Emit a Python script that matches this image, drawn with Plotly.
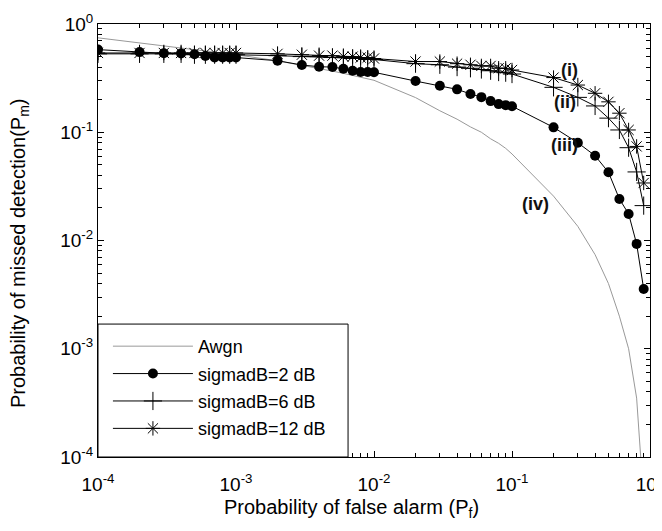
import plotly.graph_objects as go

pf = [0.0001, 0.0002, 0.0003, 0.0004, 0.0005, 0.0006, 0.0007, 0.0008, 0.0009,
      0.001, 0.002, 0.003, 0.004, 0.005, 0.006, 0.007, 0.008, 0.009,
      0.01, 0.02, 0.03, 0.04, 0.05, 0.06, 0.07, 0.08, 0.09,
      0.1, 0.2, 0.3, 0.4, 0.5, 0.6, 0.7, 0.8, 0.9]

pm_awgn = [0.745, 0.67, 0.63, 0.60, 0.58, 0.565, 0.55, 0.54, 0.53,
           0.52, 0.457, 0.417, 0.39, 0.367, 0.35, 0.335, 0.324, 0.313,
           0.302, 0.209, 0.158, 0.132, 0.112, 0.10, 0.087, 0.079, 0.071,
           0.063, 0.0257, 0.0135, 0.0074, 0.004, 0.002, 0.001, 0.00035, 0.00004]

pm_2db = [0.58, 0.55, 0.536, 0.535, 0.525, 0.506, 0.49, 0.49, 0.49,
          0.49, 0.458, 0.418, 0.403, 0.40, 0.386, 0.37, 0.36, 0.36,
          0.358, 0.297, 0.269, 0.249, 0.226, 0.211, 0.194, 0.182, 0.178,
          0.174, 0.111, 0.080, 0.0607, 0.0427, 0.0242, 0.0176, 0.0093, 0.00356]

pm_6db = [0.53, 0.53, 0.53, 0.53, 0.52, 0.52, 0.52, 0.52, 0.52,
          0.52, 0.51, 0.50, 0.50, 0.49, 0.49, 0.48, 0.48, 0.47,
          0.47, 0.43, 0.42, 0.40, 0.39, 0.38, 0.37, 0.36, 0.355,
          0.345, 0.26, 0.21, 0.175, 0.135, 0.105, 0.072, 0.043, 0.021]

pm_12db = [0.54, 0.54, 0.54, 0.54, 0.54, 0.54, 0.54, 0.54, 0.54,
           0.54, 0.53, 0.52, 0.51, 0.51, 0.50, 0.50, 0.49, 0.49,
           0.48, 0.45, 0.45, 0.43, 0.42, 0.41, 0.41, 0.39, 0.39,
           0.376, 0.32, 0.273, 0.229, 0.191, 0.15, 0.105, 0.074, 0.034]

tick_vals = [0.0001, 0.001, 0.01, 0.1, 1]
tick_text = ["10<sup>-4</sup>", "10<sup>-3</sup>", "10<sup>-2</sup>", "10<sup>-1</sup>", "10<sup>0</sup>"]

curve_labels = ["(i)", "(ii)", "(iii)", "(iv)"]
x_title = "Probability of false alarm (P<sub>f</sub>)"
y_title = "Probability of missed detection(P<sub>m</sub>)"

FONT = "Arial, Liberation Sans, sans-serif"

fig = go.Figure()
fig.add_trace(go.Scatter(x=pf, y=pm_awgn, mode="lines", name="Awgn", legendgroup="a",
                         line=dict(color="#999999", width=1)))
fig.add_trace(go.Scatter(x=pf, y=pm_2db, mode="lines+markers", name="sigmadB=2 dB",
                         legendgroup="b",
                         line=dict(color="black", width=1),
                         marker=dict(symbol="circle", size=10, color="black")))
fig.add_trace(go.Scatter(x=pf, y=pm_6db, mode="lines+markers", name="sigmadB=6 dB",
                         legendgroup="c",
                         line=dict(color="black", width=1),
                         marker=dict(symbol="cross-thin-open", size=13,
                                     line=dict(color="black", width=1))))
fig.add_trace(go.Scatter(x=pf, y=pm_12db, mode="lines+markers", name="sigmadB=12 dB",
                         legendgroup="d",
                         line=dict(color="black", width=1),
                         marker=dict(symbol="asterisk-open", size=12,
                                     line=dict(color="black", width=1))))

ann_pos = [(0.855, 0.894), (0.846, 0.82), (0.846, 0.72), (0.792, 0.584)]
for lab, (ax_, ay_) in zip(curve_labels, ann_pos):
    fig.add_annotation(x=ax_, y=ay_, xref="paper", yref="paper", text="<b>%s</b>" % lab,
                       xanchor="center", yanchor="middle",
                       showarrow=False, font=dict(family=FONT, size=18, color="#111"))

# axis titles (placed like the original, slightly off-centre)
fig.add_annotation(x=0.46, y=-0.118, xref="paper", yref="paper", text=x_title,
                   xanchor="center", yanchor="middle", showarrow=False,
                   font=dict(family=FONT, size=20, color="black"))
fig.add_annotation(x=-0.142, y=0.47, xref="paper", yref="paper", text=y_title,
                   textangle=-90, xanchor="center", yanchor="middle", showarrow=False,
                   font=dict(family=FONT, size=20, color="black"))

# legend frame
fig.add_shape(type="rect", xref="paper", yref="paper", x0=0, x1=0.453, y0=0, y1=0.307,
              line=dict(color="black", width=1), fillcolor="white", layer="above")

axis_common = dict(type="log", range=[-4, 0], showgrid=False, zeroline=False,
                   showline=True, linecolor="black", linewidth=1, mirror="allticks",
                   ticks="inside", ticklen=6, tickcolor="black",
                   tickvals=tick_vals, ticktext=tick_text,
                   tickfont=dict(family=FONT, size=19, color="black"),
                   automargin=False, ticklabeloverflow="allow",
                   minor=dict(ticks="inside", ticklen=4, tickcolor="black", dtick="D1",
                              showgrid=False))

# page body has an 8px margin: figure origin sits at (8, 8) in the screenshot
fig.update_layout(
    width=646, height=515,
    margin=dict(l=90, r=4, t=16, b=66),
    plot_bgcolor="white", paper_bgcolor="white",
    font=dict(family=FONT, size=18, color="black"),
    xaxis=dict(axis_common, ticklabelstandoff=10),
    yaxis=dict(axis_common),
    legend=dict(x=0.018, y=0.298, xanchor="left", yanchor="top",
                borderwidth=0, bgcolor="rgba(0,0,0,0)",
                font=dict(family=FONT, size=18), itemwidth=80,
                tracegroupgap=1),
    showlegend=True,
)

fig.write_html("out.html")
